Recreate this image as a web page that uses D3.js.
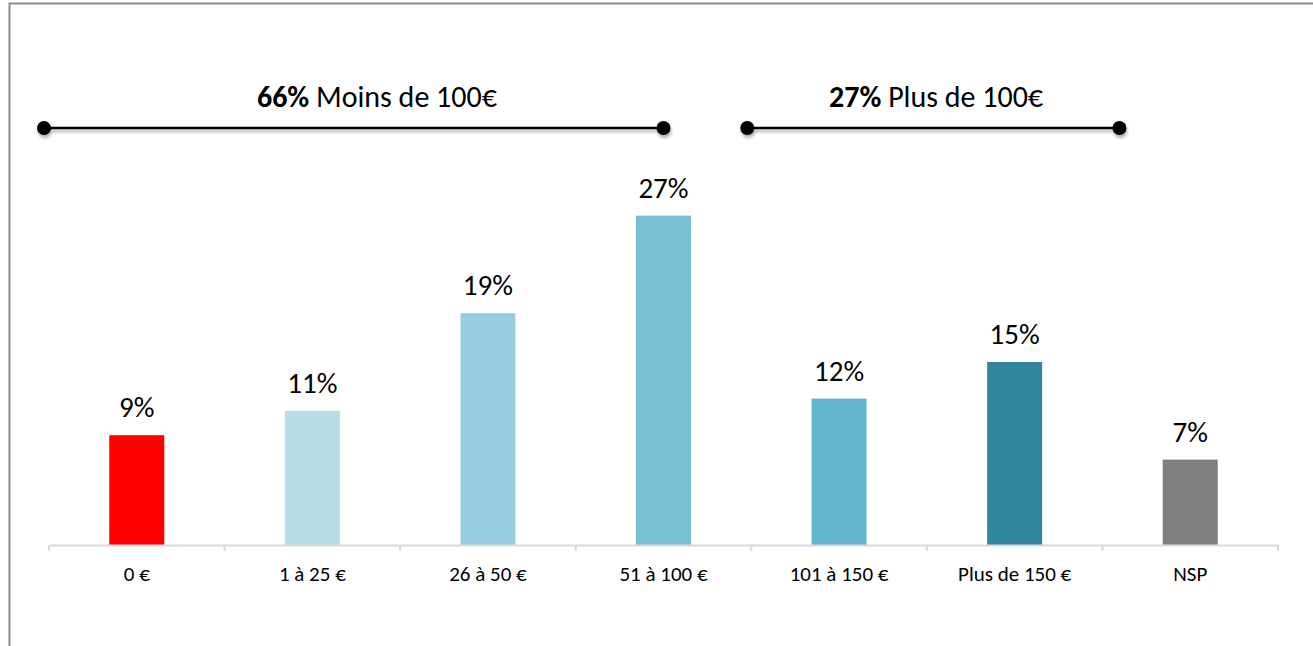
<!DOCTYPE html>
<html><head><meta charset="utf-8">
<script src="https://cdn.jsdelivr.net/npm/d3@7"></script>
<style>
html,body{margin:0;padding:0;background:#fff;}
svg{display:block;font-family:Carlito, Lato, "Open Sans", sans-serif;}
</style></head>
<body><svg id="c" width="1313" height="646"></svg>
<script>
const categories = ["0 €", "1 à 25 €", "26 à 50 €", "51 à 100 €", "101 à 150 €", "Plus de 150 €", "NSP"];
const values = [9, 11, 19, 27, 12, 15, 7];
const colors = ["#FF0000", "#B7DEE8", "#96CEDF", "#78C1D5", "#63B5CC", "#31869C", "#808080"];
const groupLabels = [{bold: "66%", text: " Moins de 100€"}, {bold: "27%", text: " Plus de 100€"}];
const groupRanges = [["0 €", "51 à 100 €"], ["101 à 150 €", "Plus de 150 €"]];

const svg = d3.select("#c");
const W = 1313, H = 646;
const m = {left: 49, right: 35, bottom: 101};
const baseY = H - m.bottom;
const FONT = "Carlito, Lato, 'Open Sans', sans-serif";

// frame
svg.append("path").attr("d", `M9.5,646 L9.5,3.5 L1313,3.5`).attr("fill","none").attr("stroke","#8a8a8a").attr("stroke-width",2);

const x = d3.scaleBand().domain(categories).range([m.left, W - m.right]).paddingInner(0).paddingOuter(0);
const y = d3.scaleLinear().domain([0, 1]).range([baseY, baseY - 12.2]);
const bw = 55;
const cx = c => x(c) + x.bandwidth()/2;

const defs = svg.append("defs");
const f = defs.append("filter").attr("id","sh").attr("x","-10%").attr("y","-100%").attr("width","120%").attr("height","400%");
f.append("feGaussianBlur").attr("in","SourceAlpha").attr("stdDeviation",1.5);
f.append("feOffset").attr("dx",1).attr("dy",3).attr("result","ob");
f.append("feComponentTransfer").append("feFuncA").attr("type","linear").attr("slope",0.3);
const fm = f.append("feMerge"); fm.append("feMergeNode"); fm.append("feMergeNode").attr("in","SourceGraphic");

// bars
svg.selectAll("rect.bar").data(values).join("rect").attr("class","bar")
  .attr("x",(d,i)=>cx(categories[i]) - bw/2)
  .attr("y",d=>y(d)).attr("width",bw).attr("height",d=>baseY - y(d))
  .attr("fill",(d,i)=>colors[i]);

// value labels
svg.selectAll("text.val").data(values).join("text").attr("class","val")
  .attr("x",(d,i)=>cx(categories[i]))
  .attr("y",d=>y(d) - 18).attr("text-anchor","middle")
  .attr("font-size",29).attr("fill","#000").text(d=>d+"%");

// axis
const ax = d3.axisBottom(x).tickSize(0).tickPadding(0);
const g = svg.append("g").attr("transform",`translate(0,${baseY})`).call(ax);
g.select(".domain").attr("stroke","#d9d9d9").attr("stroke-width",2);
g.selectAll(".tick text").attr("y",36).attr("dy",0).attr("font-size",21).attr("font-weight","normal").attr("fill","#000").attr("font-family",FONT);
const edges = categories.map(c=>x(c)).concat([x(categories[categories.length-1]) + x.bandwidth()]);
g.selectAll("line.tk").data(edges).join("line").attr("class","tk")
  .attr("x1",d=>d).attr("x2",d=>d).attr("y1",0).attr("y2",6).attr("stroke","#d9d9d9").attr("stroke-width",2);

// group brackets
const by = 128;
const ends = [
  [x(groupRanges[0][0]) - 5, cx(groupRanges[0][1])],
  [x(groupRanges[1][0]) - 4, x(groupRanges[1][1]) + x.bandwidth() + 17]
];
const titleX = [cx("26 à 50 €") - 111, cx("101 à 150 €") + 97];
groupRanges.forEach((r,i)=>{
  const [x0, x1] = ends[i];
  const gg = svg.append("g").attr("filter","url(#sh)");
  gg.append("line").attr("x1",x0).attr("x2",x1).attr("y1",by).attr("y2",by).attr("stroke","#000").attr("stroke-width",2.5);
  gg.append("circle").attr("cx",x0).attr("cy",by).attr("r",7).attr("fill","#000");
  gg.append("circle").attr("cx",x1).attr("cy",by).attr("r",7).attr("fill","#000");
  const t = svg.append("text").attr("x",titleX[i]).attr("y",by-21).attr("text-anchor","middle").attr("font-size",30).attr("fill","#000");
  t.append("tspan").attr("font-weight","bold").text(groupLabels[i].bold);
  t.append("tspan").text(groupLabels[i].text);
});
</script></body></html>
